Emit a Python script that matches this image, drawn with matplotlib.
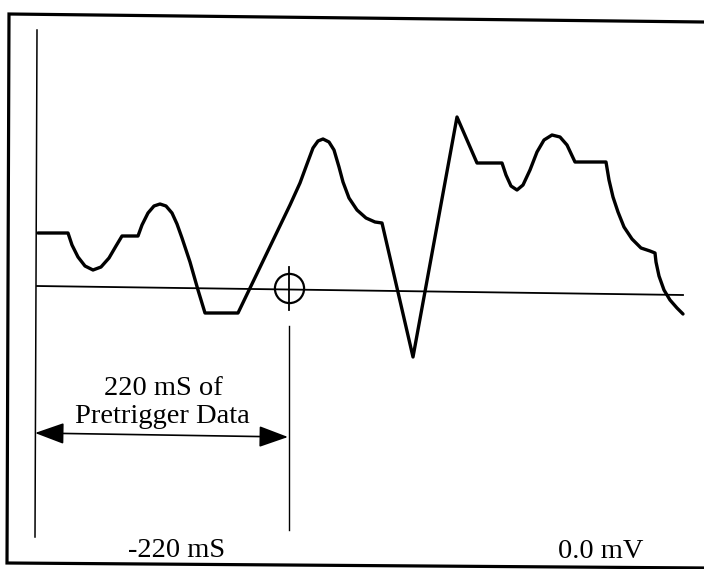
import matplotlib.pyplot as plt
from matplotlib.patches import ArrowStyle

# waveform (horizontal position, vertical position; y grows downward)
wave_x = [38, 68, 72, 78, 85, 93, 101, 109, 116, 122, 138, 142, 148, 154, 160, 166, 172,
          177, 182, 190, 198, 205, 238, 290, 300, 307, 313, 318, 323, 329, 334, 339, 343,
          349, 357, 366, 375, 382, 413, 457, 477, 502, 506, 511, 517, 523, 530, 537, 544,
          552, 560, 567, 575, 606, 609, 613, 618, 624, 632, 641, 650, 655, 656, 659, 664,
          670, 677, 683]
wave_y = [233, 233, 245, 257, 266, 270, 267, 258, 246, 236, 236, 225, 213, 206, 204, 206, 213,
          224, 238, 262, 290, 313, 313, 205, 183, 164, 148, 141, 139, 142, 150, 167, 182,
          198, 210, 218, 222, 223, 357, 117, 163, 163, 175, 186, 190, 185, 170, 152, 140,
          135, 137, 145, 162, 162, 180, 197, 212, 227, 239, 248, 251, 253, 262, 276, 290,
          300, 308, 314]

# zero line (slightly tilted in the scan)
zero_x = [37, 683]
zero_y = [286, 295]

# page frame (open on the right)
frame_x = [704, 9, 7, 704]
frame_y = [22, 14, 563, 568]

axis_x = [37, 35]
axis_y = [30, 537]

trig_x = 289
trig_y = 288
trig_line_y = [326, 530]
cross_y = [267, 310]

arrow_y = [433, 437]

fig = plt.figure(figsize=(7.04, 5.69), dpi=100)
ax = fig.add_axes([0, 0, 1, 1])
ax.set_xlim(0, 704)
ax.set_ylim(569, 0)
ax.axis('off')

ax.plot(frame_x, frame_y, color='black', lw=2.3, solid_joinstyle='miter')
ax.plot(axis_x, axis_y, color='black', lw=1.1)
ax.plot(zero_x, zero_y, color='black', lw=1.3)
ax.plot(wave_x, wave_y, color='black', lw=2.4, solid_joinstyle='round', solid_capstyle='round')

# trigger marker
ax.plot([trig_x], [trig_y], marker='o', ms=21, mfc='none', mec='black', mew=1.6)
ax.plot([trig_x, trig_x], cross_y, color='black', lw=1.3)
ax.plot([trig_x, trig_x], trig_line_y, color='black', lw=1.0)

ax.annotate('', xy=(axis_x[1], arrow_y[0]), xytext=(trig_x - 1, arrow_y[1]),
            arrowprops=dict(arrowstyle=ArrowStyle('<|-|>', head_length=0.55, head_width=0.2),
                            mutation_scale=33, color='black', lw=1.2,
                            shrinkA=0, shrinkB=0))

font = dict(family='Liberation Serif', fontsize=20.5, color='black')
ax.text(163, 395, '220 mS of', ha='center', va='baseline', **font)
ax.text(162, 423, 'Pretrigger Data', ha='center', va='baseline', **font)
ax.text(177, 557, '-220 mS', ha='center', va='baseline', **font)
ax.text(601, 558, '0.0 mV', ha='center', va='baseline', **font)

plt.savefig('out.png', dpi=100)
